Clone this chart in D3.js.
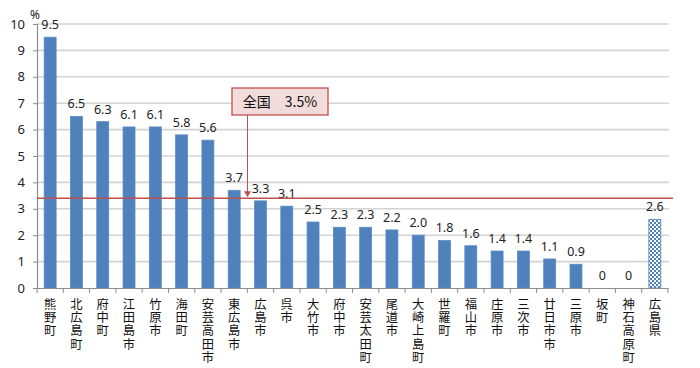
<!DOCTYPE html>
<html>
<head>
<meta charset="utf-8">
<script src="https://cdn.jsdelivr.net/npm/d3@7"></script>
<style>
html,body{margin:0;padding:0;background:#fff;}
svg{display:block;}
</style>
</head>
<body>
<svg id="chart" width="700" height="368"></svg>
<script>
const categories = ["熊野町","北広島町","府中町","江田島市","竹原市","海田町","安芸高田市","東広島市","広島市","呉市","大竹市","府中市","安芸太田町","尾道市","大崎上島町","世羅町","福山市","庄原市","三次市","廿日市市","三原市","坂町","神石高原町","広島県"];
const values = [9.5,6.5,6.3,6.1,6.1,5.8,5.6,3.7,3.3,3.1,2.5,2.3,2.3,2.2,2.0,1.8,1.6,1.4,1.4,1.1,0.9,0,0,2.6];
const valueLabels = ["9.5","6.5","6.3","6.1","6.1","5.8","5.6","3.7","3.3","3.1","2.5","2.3","2.3","2.2","2.0","1.8","1.6","1.4","1.4","1.1","0.9","0","0","2.6"];
const yTicks = [0,1,2,3,4,5,6,7,8,9,10];
const highlighted = ["広島県"];
const nationalLineValue = 3.4;
const nationalText = "全国　3.5%";
const unitText = "%";

(function(){
const svg = d3.select("#chart");
const mLeft = 37, mRight = 668, mTop = 24, mBottom = 288;

const x = d3.scaleBand().domain(categories).range([mLeft, mRight]).paddingInner(0).paddingOuter(0);
const y = d3.scaleLinear().domain([0, 10]).range([mBottom, mTop]);
const barW = x.bandwidth() * 0.4545;

// pattern
const defs = svg.append("defs");
const pat = defs.append("pattern").attr("id","checks").attr("patternUnits","userSpaceOnUse")
  .attr("width",4).attr("height",4);
pat.append("rect").attr("width",4).attr("height",4).attr("fill","#ffffff");
pat.append("rect").attr("x",0).attr("y",0).attr("width",2).attr("height",2).attr("fill","#4f81bd");
pat.append("rect").attr("x",2).attr("y",2).attr("width",2).attr("height",2).attr("fill","#4f81bd");

// gridlines
svg.append("g").selectAll("line").data(yTicks.filter(d=>d>0)).join("line")
  .attr("x1", mLeft).attr("x2", mRight+1)
  .attr("y1", d=>y(d)).attr("y2", d=>y(d))
  .attr("stroke","#d4d4d4").attr("stroke-width",1.6);

// y axis
const yAxis = d3.axisLeft(y).tickValues(yTicks).tickSize(4).tickPadding(8).tickFormat(d3.format("d"));
const gy = svg.append("g").attr("transform",`translate(${mLeft},0)`).call(yAxis);
gy.select(".domain").attr("stroke","#8c8c8c").attr("stroke-width",1.2);
gy.selectAll(".tick line").attr("stroke","#8c8c8c");
gy.selectAll(".tick text").attr("font-family","'Noto Sans', sans-serif").attr("font-size",13).attr("fill","#222");

// bars
svg.append("g").selectAll("rect").data(categories).join("rect")
  .attr("x", (d)=> x(d) + (x.bandwidth()-barW)/2)
  .attr("width", barW)
  .attr("y", (d,i)=> y(values[i]))
  .attr("height", (d,i)=> y(0)-y(values[i]))
  .attr("fill", d=> highlighted.includes(d) ? "url(#checks)" : "#4f81bd")
  .attr("stroke", d=> highlighted.includes(d) ? "#4f81bd" : "#5a8ac4")
  .attr("stroke-width", 0.8);

// x axis
const xAxis = d3.axisBottom(x).tickSize(0).tickFormat("");
const gx = svg.append("g").attr("transform",`translate(0,${mBottom})`).call(xAxis);
gx.select(".domain").attr("stroke","#8c8c8c").attr("stroke-width",1.2);
const bounds = categories.map(c=>x(c)).concat([x(categories[categories.length-1])+x.bandwidth()]);
svg.append("g").selectAll("line").data(bounds).join("line")
  .attr("x1",d=>d).attr("x2",d=>d).attr("y1",mBottom).attr("y2",mBottom+5)
  .attr("stroke","#8c8c8c").attr("stroke-width",1);

// category labels (vertical writing)
svg.append("g").selectAll("text").data(categories).join("text")
  .attr("x", d=> x(d) + x.bandwidth()/2)
  .attr("y", 298)
  .style("writing-mode","vertical-rl")
  .style("text-orientation","upright")
  .style("letter-spacing","1px")
  .attr("font-family","'Noto Sans CJK JP', sans-serif").attr("font-size",12.3).attr("fill","#111")
  .text(d=>d);

// value labels
svg.append("g").selectAll("text").data(categories).join("text")
  .attr("x", d=> x(d)+x.bandwidth()/2)
  .attr("y", (d,i)=> y(values[i]) - 8)
  .attr("text-anchor","middle")
  .attr("font-family","'Noto Sans', sans-serif").attr("font-size",12.5).attr("fill","#222")
  .text((d,i)=>valueLabels[i]);

// unit
svg.append("text").attr("x",30).attr("y",19).attr("font-family","'Noto Sans', sans-serif")
  .attr("font-size",12).attr("fill","#222").text(unitText);

// national line
svg.append("line").attr("x1",mLeft).attr("x2",673)
  .attr("y1",y(nationalLineValue)).attr("y2",y(nationalLineValue))
  .attr("stroke","#c0504d").attr("stroke-width",1.6);

// callout
const bx = 232, by = 88, bw = 96, bh = 27, ax = 247.5;
const ly = y(nationalLineValue);
svg.append("line").attr("x1",ax).attr("x2",ax).attr("y1",by+bh).attr("y2",ly-5)
  .attr("stroke","#c0504d").attr("stroke-width",1);
svg.append("path").attr("d",`M${ax-3.5},${ly-7} L${ax+3.5},${ly-7} L${ax},${ly-1} Z`)
  .attr("fill","#c0504d");
svg.append("rect").attr("x",bx).attr("y",by).attr("width",bw).attr("height",bh)
  .attr("fill","#f2dcdb").attr("stroke","#c0504d").attr("stroke-width",1.3);
svg.append("text").attr("x",bx+bw/2).attr("y",by+bh/2+5).attr("text-anchor","middle")
  .attr("font-family","'Noto Sans CJK JP', sans-serif").attr("font-size",14).attr("fill","#111")
  .text(nationalText);
})();
</script>
</body>
</html>
